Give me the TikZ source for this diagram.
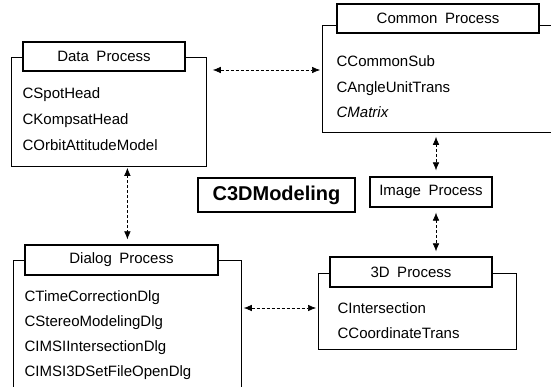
\documentclass[tikz,border=0pt]{standalone}
\usepackage{fontspec}
\setmainfont{Liberation Sans}
\usetikzlibrary{calc,positioning,arrows.meta}

\tikzset{
  pkgframe/.style={draw,line width=0.8pt,inner sep=0pt,anchor=north west},
  pkgtitle/.style={draw,line width=1.2pt,fill=white,inner sep=0pt,minimum height=29pt,font=\fontsize{15}{18}\selectfont},
  member/.style={inner sep=0pt,font=\fontsize{15}{18}\selectfont},
  link/.style={densely dashed,line width=0.6pt,{Latex[length=8pt,width=6.5pt]}-{Latex[length=8pt,width=6.5pt]}}
}

\begin{document}
\begin{tikzpicture}[x=1pt,y=1pt]
	\useasboundingbox (0,0) rectangle (551,-387);
	% data package
	\node(datafr) [pkgframe,minimum width=195pt,minimum height=109pt] at (11,-57) {};
	\node(datattl) [pkgtitle,minimum width=162pt] at (104,-56.5) {Data\enspace Process};
	\node(spothead) [member,below=27pt of datattl.south west,anchor=base west] {CSpotHead};
	\node(kompsat) [member,below=26pt of spothead.base west,anchor=base west] {CKompsatHead};
	\node(orbit) [member,below=26pt of kompsat.base west,anchor=base west] {COrbitAttitudeModel};
	% common package
	\node(commonfr) [pkgframe,minimum width=240pt,minimum height=107pt] at (322,-25) {};
	\node(commonttl) [pkgtitle,minimum width=202pt] at (438,-18.5) {Common\enspace Process};
	\node(commonsub) [member,below=33pt of commonttl.south west,anchor=base west] {CCommonSub};
	\node(angle) [member,below=25.5pt of commonsub.base west,anchor=base west] {CAngleUnitTrans};
	\node(matrix) [member,below=25.5pt of angle.base west,anchor=base west] {\textit{CMatrix}};
	% middle boxes
	\node(modeling) [draw,line width=1.2pt,inner sep=0pt,minimum width=157pt,minimum height=34pt,
		font=\fontsize{20}{24}\selectfont\bfseries] at (276.5,-195) {C3DModeling};
	\node(imgbox) [pkgtitle,minimum width=122pt,minimum height=30pt] at (431,-192) {Image\enspace Process};
	% 3d package
	\node(threedfr) [pkgframe,minimum width=198pt,minimum height=76pt] at (318,-273) {};
	\node(threedttl) [pkgtitle,minimum width=162pt,minimum height=30pt] at (411,-272) {3D\enspace Process};
	\node(intersect) [member,below=25.5pt of threedttl.south west,anchor=base west,xshift=8pt] {CIntersection};
	\node(coordtrans) [member,below=25pt of intersect.base west,anchor=base west] {CCoordinateTrans};
	% dialog package
	\node(dialogfr) [pkgframe,minimum width=228pt,minimum height=140pt] at (13,-260) {};
	\node(dialogttl) [pkgtitle,minimum width=193pt,minimum height=30pt] at (121.5,-260) {Dialog\enspace Process};
	\node(timecorr) [member,below=25.5pt of dialogttl.south west,anchor=base west] {CTimeCorrectionDlg};
	\node(stereo) [member,below=25pt of timecorr.base west,anchor=base west] {CStereoModelingDlg};
	\node(imsiint) [member,below=25pt of stereo.base west,anchor=base west] {CIMSIIntersectionDlg};
	\node(imsifile) [member,below=25pt of imsiint.base west,anchor=base west] {CIMSI3DSetFileOpenDlg};
	% connectors
	\coordinate(dataport) at ([shift={(6pt,-13pt)}]datafr.north east);
	\coordinate(threedport) at ([yshift=-35pt]threedfr.north west);
	\draw [link,shorten >=2pt] (dataport) -- (dataport -| commonfr.west);
	\draw [link,shorten <=1pt,shorten >=5pt] ([xshift=18.5pt]datafr.south) -- ([xshift=18.5pt]datafr.south |- dialogttl.north);
	\draw [link,shorten <=4pt,shorten >=6pt] ([xshift=5pt]imgbox.north |- commonfr.south) -- ([xshift=5pt]imgbox.north);
	\draw [link,shorten <=5pt,shorten >=5pt] ([xshift=5pt]imgbox.south) -- ([xshift=5pt]imgbox.south |- threedttl.north);
	\draw [link,shorten <=2pt,shorten >=2pt] (threedport -| dialogfr.east) -- (threedport);
\end{tikzpicture}
\end{document}
